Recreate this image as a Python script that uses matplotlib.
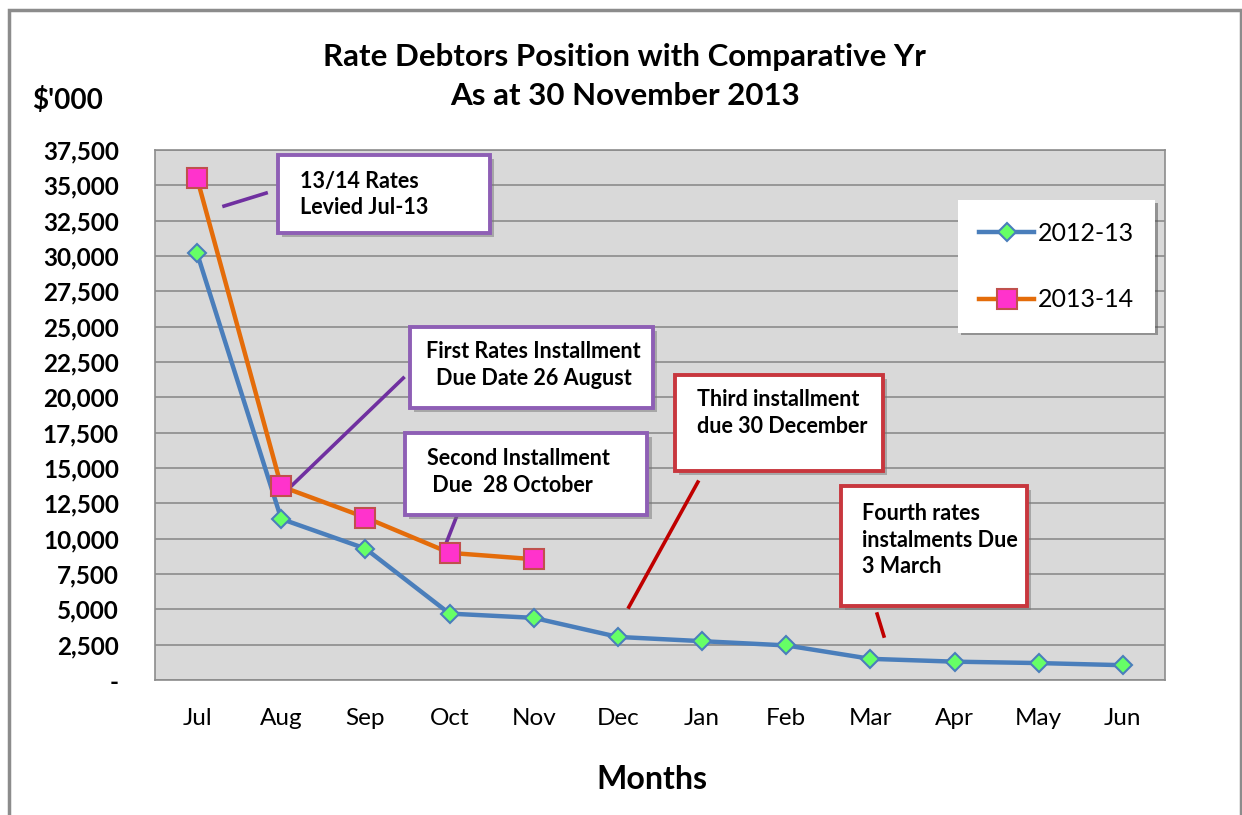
import matplotlib
matplotlib.use("Agg")
import matplotlib.pyplot as plt
import matplotlib.patheffects as pe
from matplotlib.patches import Rectangle
from matplotlib.ticker import FuncFormatter, MultipleLocator

plt.rcParams['font.family'] = ['Lato', 'DejaVu Sans']

# data ($'000)
months = ['Jul', 'Aug', 'Sep', 'Oct', 'Nov', 'Dec',
          'Jan', 'Feb', 'Mar', 'Apr', 'May', 'Jun']
debtors_2012_13 = [30200, 11400, 9300, 4700, 4400, 3050,
                   2750, 2450, 1500, 1300, 1200, 1050]
debtors_2013_14 = [35500, 13700, 11500, 9000, 8550]

notes = ['13/14 Rates\nLevied Jul-13',
         'First Rates Installment\nDue Date 26 August',
         'Second Installment\n Due  28 October',
         'Third installment\ndue 30 December',
         'Fourth rates\ninstalments Due\n3 March']

# callout layout: box (x0, x1, y0, y1), text pos, align, connector, colours
purple = '#8e5fb5'
purple_line = '#7030a0'
red = '#c8373e'
red_line = '#c00000'
callouts = [
    ((0.96, 3.48, 31625, 37144), (1.22, 34350), 'left',
     ((0.32, 0.82), (33535, 34455)), purple, purple_line),
    ((2.53, 5.42, 19244, 24975), (4.0, 22286), 'center',
     ((1.07, 2.45), (13443, 21367)), purple, purple_line),
    ((2.47, 5.35, 11674, 17475), (2.73, 14716), 'left',
     ((2.96, 3.09), (9693, 11674)), purple, purple_line),
    ((5.68, 8.15, 14787, 21579), (5.94, 18900), 'left',
     ((5.13, 5.95), (5165, 14009)), red, red_line),
    ((7.65, 9.86, 5236, 13726), (7.90, 9905), 'left',
     ((8.08, 8.16), (4670, 3113)), red, red_line),
]

fig = plt.figure(figsize=(12.42, 8.15), dpi=100)
ax = fig.add_axes([0.1248, 0.1656, 0.8132, 0.6503])
ax.set_facecolor('#d9d9d9')

x = list(range(len(months)))
ax.plot(x, debtors_2012_13, color='#4a7ebb', linewidth=3.2, marker='D',
        markersize=9, markerfacecolor='#66ff66', markeredgecolor='#4a7ebb',
        markeredgewidth=1.5, label='2012-13', zorder=4)
ax.plot(x[:len(debtors_2013_14)], debtors_2013_14, color='#e46c0a',
        linewidth=3.2, marker='s', markersize=14, markerfacecolor='#ff33cc',
        markeredgecolor='#c0504d', markeredgewidth=1.5, label='2013-14',
        zorder=5)

ax.set_xlim(-0.5, 11.5)
ax.set_ylim(0, 37500)
ax.yaxis.set_major_locator(MultipleLocator(2500))
ax.yaxis.set_major_formatter(FuncFormatter(
    lambda v, p: '-' if v == 0 else f'{int(v):,}'))
ax.set_xticks(x)
ax.set_xticklabels(months, fontsize=17.5)
ax.grid(axis='y', color='#8c8c8c', linewidth=1.2)
ax.set_axisbelow(True)
ax.tick_params(axis='both', length=0)
ax.tick_params(axis='x', pad=20)
ax.tick_params(axis='y', pad=26)
for lbl in ax.get_yticklabels():
    lbl.set_fontweight('bold')
    lbl.set_fontsize(17.5)
for s in ax.spines.values():
    s.set_color('#8c8c8c')
    s.set_linewidth(1.2)

shadow = [pe.SimplePatchShadow(offset=(3, -3), shadow_rgbFace='#777777',
                               alpha=0.5), pe.Normal()]
for (box, tpos, ha, conn, col, lcol), txt in zip(callouts, notes):
    x0, x1, y0, y1 = box
    r = Rectangle((x0, y0), x1 - x0, y1 - y0, facecolor='white',
                  edgecolor=col, linewidth=2.8, zorder=6)
    r.set_path_effects(shadow)
    ax.add_patch(r)
    ax.text(tpos[0], tpos[1], txt, ha=ha, va='center', multialignment=ha,
            fontsize=15.5, fontweight='bold', linespacing=1.32, zorder=7)
    ax.plot(conn[0], conn[1], color=lcol, linewidth=2.6, zorder=3)

leg = ax.legend(loc='upper left', bbox_to_anchor=(0.795, 0.905),
                fontsize=18, frameon=True, fancybox=False, shadow=True,
                borderpad=0.85, labelspacing=1.75, handlelength=2.2,
                handletextpad=0.15, borderaxespad=0)
leg.get_frame().set_edgecolor('white')
leg.get_frame().set_linewidth(0)
leg.set_zorder(8)

fig.text(0.503, 0.93, 'Rate Debtors Position with Comparative Yr',
         ha='center', va='center', fontsize=22.5, fontweight='bold')
fig.text(0.503, 0.882, 'As at 30 November 2013',
         ha='center', va='center', fontsize=22.5, fontweight='bold')
fig.text(0.026, 0.877, "$'000", ha='left', va='center',
         fontsize=20, fontweight='bold')
fig.text(0.525, 0.043, 'Months', ha='center', va='center',
         fontsize=23, fontweight='bold')

# outer chart frame
fig.patches.append(Rectangle((0.0075, -0.05), 0.9915, 1.038,
                             transform=fig.transFigure, fill=False,
                             edgecolor='#8c8c8c', linewidth=2.5))

fig.savefig('out.png', dpi=100)
